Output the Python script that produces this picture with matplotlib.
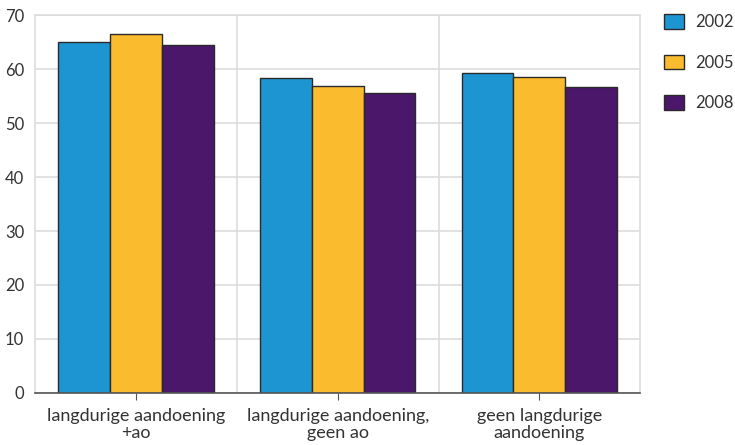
import matplotlib.pyplot as plt
import numpy as np
from matplotlib.patches import Patch

plt.rcParams['font.family'] = ['Lato', 'DejaVu Sans']

categories = ['langdurige aandoening\n+ao', 'langdurige aandoening,\ngeen ao', 'geen langdurige\naandoening']
years = ['2002', '2005', '2008']
v2002 = [65.0, 58.3, 59.3]
v2005 = [66.5, 56.8, 58.6]
v2008 = [64.5, 55.6, 56.6]
colors = ['#1e95d3', '#fbbb2f', '#4a176b']

fig = plt.figure(figsize=(7.35, 4.45), dpi=100)
ax = fig.add_axes([0.048, 0.117, 0.823, 0.849])

x = np.arange(len(categories))
w = 0.257
for i, (vals, col, yr) in enumerate(zip([v2002, v2005, v2008], colors, years)):
    ax.bar(x + (i - 1) * w, vals, w, color=col, edgecolor='#2a2a2a', linewidth=1.0, label=yr, zorder=3)

ax.set_xlim(-0.5, 2.5)
ax.set_ylim(0, 70)
ax.set_yticks(range(0, 71, 10))
ax.set_xticks(x)
ax.set_xticklabels(categories, fontsize=13, color='#333333', linespacing=1.05)
ax.tick_params(axis='y', length=0, labelsize=12, labelcolor='#333333', pad=8)
ax.tick_params(axis='x', length=5, color='#555555', pad=6)

ax.grid(axis='y', color='#dddddd', linewidth=1.2, zorder=0)
for b in [0.5, 1.5]:
    ax.axvline(b, color='#dddddd', linewidth=1.2, zorder=0)
for s in ['top', 'left', 'right']:
    ax.spines[s].set_color('#dddddd')
    ax.spines[s].set_linewidth(1.2)
ax.spines['bottom'].set_color('#555555')
ax.spines['bottom'].set_linewidth(1.2)
ax.spines['bottom'].set_zorder(4)

handles = [Patch(facecolor=c, edgecolor='#2a2a2a', label=y) for c, y in zip(colors, years)]
leg = fig.legend(handles=handles, loc='upper left', bbox_to_anchor=(0.903, 0.968), frameon=False,
                 borderpad=0, borderaxespad=0, fontsize=12, handlelength=1.2, handleheight=1.0,
                 labelspacing=1.45, handletextpad=0.7)
for t in leg.get_texts():
    t.set_color('#333333')

fig.savefig('out.png', dpi=100)
